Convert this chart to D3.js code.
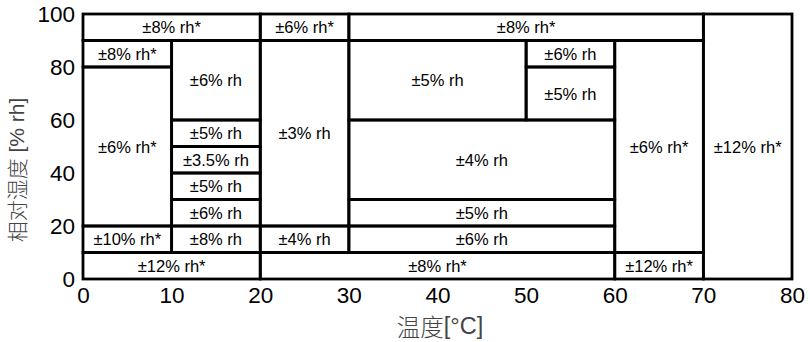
<!DOCTYPE html>
<html><head><meta charset="utf-8">
<script src="https://cdn.jsdelivr.net/npm/d3@7"></script>
<style>body{margin:0;background:#fff}svg{display:block}</style>
</head><body>
<script>
// Data
const tempFrom = [0, 20, 30, 70, 0, 0, 10, 10, 10, 10, 10, 0, 10, 0, 20, 20, 20, 30, 50, 50, 30, 30, 30, 60, 60];
const tempTo   = [20, 30, 70, 80, 10, 10, 20, 20, 20, 20, 20, 10, 20, 20, 30, 30, 60, 50, 60, 60, 60, 60, 60, 70, 70];
const rhFrom   = [90, 90, 90, 0, 80, 20, 60, 50, 40, 30, 20, 10, 10, 0, 20, 10, 0, 60, 80, 60, 30, 20, 10, 10, 0];
const rhTo     = [100, 100, 100, 100, 90, 80, 90, 60, 50, 40, 30, 20, 20, 10, 90, 20, 10, 90, 90, 80, 60, 30, 20, 90, 10];
const accuracy = ["±8% rh*", "±6% rh*", "±8% rh*", "±12% rh*", "±8% rh*", "±6% rh*", "±6% rh", "±5% rh", "±3.5% rh", "±5% rh", "±6% rh",
                  "±10% rh*", "±8% rh", "±12% rh*", "±3% rh", "±4% rh", "±8% rh*", "±5% rh", "±6% rh", "±5% rh", "±4% rh", "±5% rh", "±6% rh", "±6% rh*", "±12% rh*"];
const xTicks = [0, 10, 20, 30, 40, 50, 60, 70, 80];
const yTicks = [0, 20, 40, 60, 80, 100];
const xTitle = ["温度", "[°C]"];
const yTitle = ["相对湿度", " [% rh]"];

const cells = accuracy.map((l, i) => ({x0: tempFrom[i], x1: tempTo[i], y0: rhFrom[i], y1: rhTo[i], label: l}));

const W = 810, H = 342;
const svg = d3.select("body").append("svg").attr("width", W).attr("height", H);
const x = d3.scaleLinear().domain([0, 80]).range([83, 792]);
const y = d3.scaleLinear().domain([0, 100]).range([279, 14]);
const latin = "'Liberation Sans', Arial, sans-serif";
const cjk = "'Noto Sans CJK SC', sans-serif";

const g = svg.append("g");
g.selectAll("rect").data(cells).join("rect")
  .attr("x", d => x(d.x0)).attr("y", d => y(d.y1))
  .attr("width", d => x(d.x1) - x(d.x0)).attr("height", d => y(d.y0) - y(d.y1))
  .attr("fill", "none").attr("stroke", "#000").attr("stroke-width", 2.8);

g.selectAll("text.cell").data(cells).join("text").attr("class", "cell")
  .attr("x", d => (x(d.x0) + x(d.x1)) / 2)
  .attr("y", d => (y(d.y0) + y(d.y1)) / 2)
  .attr("text-anchor", "middle").attr("dominant-baseline", "central")
  .attr("font-family", latin).attr("font-size", 16.5)
  .attr("fill", "#000").text(d => d.label);

// Axes (no tick lines)
const xAxis = svg.append("g").attr("transform", `translate(0,${y(0)})`)
  .call(d3.axisBottom(x).tickValues(xTicks).tickSize(0).tickPadding(8).tickFormat(d3.format("d")));
const yAxis = svg.append("g").attr("transform", `translate(${x(0)},0)`)
  .call(d3.axisLeft(y).tickValues(yTicks).tickSize(0).tickPadding(8).tickFormat(d3.format("d")));
[xAxis, yAxis].forEach(a => {
  a.select(".domain").remove();
  a.selectAll("text").attr("font-family", latin).attr("font-size", 22.5).attr("fill", "#000");
});

const xt = svg.append("text").attr("x", 440).attr("y", 326)
  .attr("text-anchor", "middle").attr("dominant-baseline", "central")
  .attr("font-size", 23.5).attr("fill", "#444");
xt.append("tspan").attr("font-family", cjk).attr("font-weight", 300).text(xTitle[0]);
xt.append("tspan").attr("font-family", latin).text(xTitle[1]);

const yt = svg.append("text").attr("transform", "translate(16,170) rotate(-90)")
  .attr("text-anchor", "middle").attr("dominant-baseline", "central")
  .attr("font-size", 21).attr("fill", "#444");
yt.append("tspan").attr("font-family", cjk).attr("font-weight", 300).text(yTitle[0]);
yt.append("tspan").attr("font-family", latin).text(yTitle[1]);
</script>
</body></html>
